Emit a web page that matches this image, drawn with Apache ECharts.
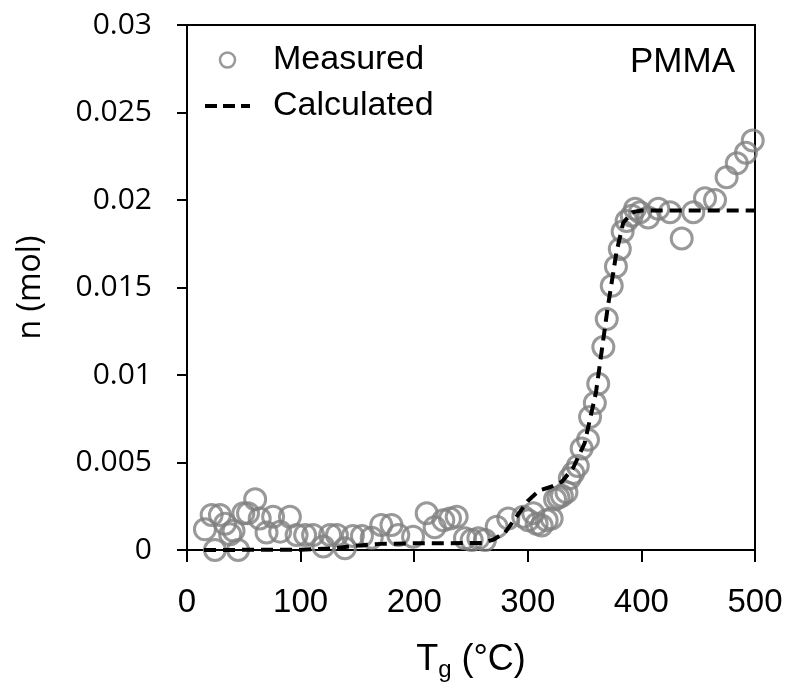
<!DOCTYPE html>
<html>
<head>
<meta charset="utf-8">
<script src="https://cdn.jsdelivr.net/npm/echarts@6/dist/echarts.min.js"></script>
<style>html,body{margin:0;padding:0;background:#fff;}#c{width:788px;height:689px;}</style>
</head>
<body>
<div id="c"></div>
<script>
// Measured points: temperature (°C) and amount (mol)
const measuredT = [15.8,21.7,24.6,29,33.5,38,41,45,49.6,53.7,60,64,70,75.8,82,90.6,96.5,104,111,120,126,132,139,146,154,162.6,171,180,186,199,211,218,225.6,231.5,237.4,244.7,250.6,256.5,262.3,272.6,282.8,296,300.4,304.8,307.8,312.2,316.6,321,324,327,330,334,337,340,344,347.4,353,354.8,359,362,366.5,369.5,373.9,377.6,381,383.5,387,391.5,394.4,398.8,406,414.9,425.2,435.5,445.7,456,464.8,475,484,492,498];
const measuredN = [0.00118,0.0020,0.0000,0.0020,0.0015,0.0009,0.0011,0.0000,0.0021,0.0021,0.0029,0.0018,0.0010,0.0019,0.00105,0.0019,0.00086,0.00086,0.00086,0.0002,0.00086,0.00086,0.0001,0.0008,0.0008,0.0007,0.00143,0.00143,0.00086,0.00076,0.0021,0.0013,0.0017,0.0018,0.0019,0.00067,0.00057,0.00067,0.00057,0.00133,0.0018,0.0019,0.0017,0.0021,0.0015,0.0014,0.0017,0.0018,0.0029,0.0030,0.0031,0.0033,0.0041,0.0044,0.0048,0.0058,0.0063,0.0076,0.0084,0.0095,0.0116,0.0132,0.0151,0.0162,0.0172,0.0182,0.0188,0.0191,0.0195,0.0193,0.0190,0.0195,0.0193,0.0178,0.0193,0.0201,0.0200,0.0213,0.0221,0.0227,0.0234];
// Calculated curve
const calcT = [15,100,130,150,170,200,260,270,280,290,300,310,320,330,340,350,360,370,378,384,392,400,500];
const calcN = [0,0.00002,0.0001,0.00025,0.00035,0.00038,0.0004,0.0006,0.0010,0.0019,0.0028,0.0034,0.0036,0.0039,0.0047,0.0061,0.0090,0.0137,0.0170,0.0187,0.0193,0.0194,0.0194];
const xTicks = {min:0, max:500, interval:100};
const yTicks = {min:0, max:0.03, interval:0.005};
const seriesNames = ['Measured','Calculated'];
const panelLabel = 'PMMA';

const chart = echarts.init(document.getElementById('c'));
chart.setOption({
  animation:false,
  backgroundColor:'#fff',
  grid:{left:187,right:33,top:25,bottom:139,show:true,borderColor:'#000',borderWidth:2,backgroundColor:'transparent'},
  title:{text:panelLabel,right:48,top:40,textStyle:{fontFamily:'Liberation Sans',fontSize:35,fontWeight:'normal',color:'#000'}},
  legend:{
    orient:'vertical',left:198,top:37,itemWidth:45,itemHeight:15,itemGap:10,
    textStyle:{fontFamily:'Liberation Sans',fontSize:34,color:'#000',padding:[0,0,0,18],lineHeight:36},
    data:[
      {name:seriesNames[0],itemStyle:{color:'#fff',borderColor:'#808080',borderWidth:2.5}},
      {name:seriesNames[1],lineStyle:{color:'#000',width:4,type:[12,6]}}
    ]
  },
  xAxis:{
    type:'value',min:xTicks.min,max:xTicks.max,interval:xTicks.interval,
    name:'{a|T}{s|g}{a| (°C)}',nameLocation:'middle',nameGap:88,
    nameTextStyle:{rich:{a:{fontFamily:'Liberation Sans',fontSize:36,color:'#000'},s:{fontFamily:'Liberation Sans',fontSize:24,color:'#000',padding:[20,0,0,0]}}},
    axisLine:{show:true,onZero:false,lineStyle:{color:'#000',width:2}},
    axisTick:{show:true,inside:false,length:12,lineStyle:{color:'#000',width:2}},
    axisLabel:{margin:36,fontFamily:'Liberation Sans',fontSize:33,color:'#000'},
    splitLine:{show:false}
  },
  yAxis:{
    type:'value',min:yTicks.min,max:yTicks.max,interval:yTicks.interval,
    name:'n (mol)',nameLocation:'middle',nameGap:140,
    nameTextStyle:{fontFamily:'Open Sans',fontSize:32,color:'#000'},
    axisLine:{show:true,onZero:false,lineStyle:{color:'#000',width:2}},
    axisTick:{show:true,inside:false,length:10,lineStyle:{color:'#000',width:2}},
    axisLabel:{margin:35,fontFamily:'Open Sans',fontSize:30,color:'#000'},
    splitLine:{show:false}
  },
  series:[
    {
      name:seriesNames[0],type:'scatter',symbol:'circle',symbolSize:21,
      itemStyle:{color:'rgba(255,255,255,0)',borderColor:'#7f7f7f',borderWidth:3},
      data:measuredT.map((t,i)=>[t,measuredN[i]]),z:2
    },
    {
      name:seriesNames[1],type:'line',symbol:'none',showSymbol:false,smooth:false,
      lineStyle:{color:'#000',width:4,type:[12,7]},
      itemStyle:{color:'transparent',borderColor:'transparent',borderWidth:0},
      data:calcT.map((t,i)=>[t,calcN[i]]),z:3
    }
  ]
});
</script>
</body>
</html>
